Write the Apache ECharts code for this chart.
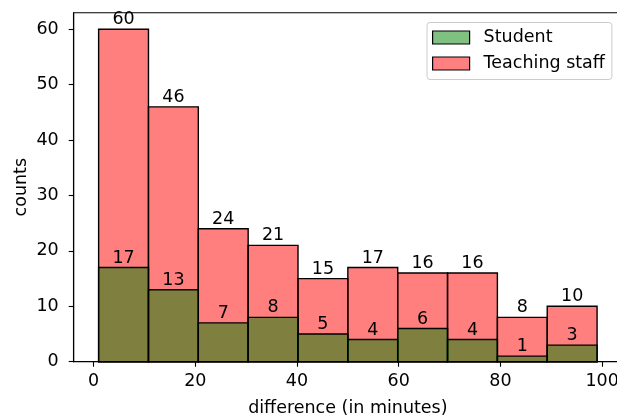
<!DOCTYPE html>
<html>
<head>
<meta charset="utf-8">
<script src="https://cdn.jsdelivr.net/npm/echarts@6/dist/echarts.min.js"></script>
<style>html,body{margin:0;padding:0;background:#fff;}#c{width:617px;height:417px;}</style>
</head>
<body>
<div id="c"></div>
<script>
const binEdges = [1.0, 10.8, 20.6, 30.4, 40.2, 50.0, 59.8, 69.6, 79.4, 89.2, 99.0];
const teachingCounts = [60, 46, 24, 21, 15, 17, 16, 16, 8, 10];
const studentCounts = [17, 13, 7, 8, 5, 4, 6, 4, 1, 3];
const xTicks = [0, 20, 40, 60, 80, 100];
const yTicks = [0, 10, 20, 30, 40, 50, 60];

const FONT = 'DejaVu Sans';
const FS = 17.5;

function toData(counts) {
  return counts.map((c, i) => [binEdges[i], binEdges[i + 1], c]);
}

function makeRender(fill) {
  return function (params, api) {
    const x0 = api.value(0), x1 = api.value(1), c = api.value(2);
    const p0 = api.coord([x0, c]);
    const p1 = api.coord([x1, 0]);
    return {
      type: 'group',
      children: [
        { type: 'rect', shape: { x: p0[0], y: p0[1], width: p1[0] - p0[0], height: p1[1] - p0[1] },
          style: { fill: fill, stroke: '#000', lineWidth: 1.4 } },
        { type: 'text', x: (p0[0] + p1[0]) / 2, y: p0[1] - 0.5, z2: 10,
          style: { text: String(c), fill: '#000', fontFamily: FONT, fontSize: FS, align: 'center', verticalAlign: 'bottom' } }
      ]
    };
  };
}

const chart = echarts.init(document.getElementById('c'), null, { renderer: 'canvas' });
chart.setOption({
  animation: false,
  backgroundColor: '#fff',
  textStyle: { fontFamily: FONT },
  grid: { left: 73.7, top: 12.7, width: 548.3, height: 349, outerBoundsMode: 'none', containLabel: false,
          show: true, borderColor: '#000', borderWidth: 1.1, backgroundColor: 'transparent' },
  legend: {
    orient: 'vertical', left: 427, top: 22.5,
    data: ['Student', 'Teaching staff'],
    icon: 'rect',
    itemWidth: 37, itemHeight: 13, itemGap: 8,
    padding: [6, 7, 7, 5],
    backgroundColor: 'rgba(255,255,255,0.8)', borderColor: '#cccccc', borderWidth: 1, borderRadius: 3,
    itemStyle: { borderColor: '#000', borderWidth: 1.2 },
    textStyle: { fontFamily: FONT, fontSize: FS, color: '#000', padding: [0, 0, 0, 9] }
  },
  xAxis: {
    type: 'value', min: -3.9, max: 103.9,
    name: 'difference (in minutes)', nameLocation: 'middle', nameGap: 38,
    nameTextStyle: { fontFamily: FONT, fontSize: FS, color: '#000' },
    axisLine: { show: true, onZero: false, lineStyle: { color: '#000', width: 1.1 } },
    axisTick: { show: true, length: 5, lineStyle: { color: '#000', width: 1.1 }, customValues: xTicks },
    axisLabel: { color: '#000', fontFamily: FONT, fontSize: FS, margin: 11, customValues: xTicks },
    splitLine: { show: false }
  },
  yAxis: {
    type: 'value', min: 0, max: 63,
    name: 'counts', nameLocation: 'middle', nameGap: 43, nameMoveOverlap: false,
    nameTextStyle: { fontFamily: FONT, fontSize: FS, color: '#000' },
    axisLine: { show: true, onZero: false, lineStyle: { color: '#000', width: 1.1 } },
    axisTick: { show: true, length: 5, lineStyle: { color: '#000', width: 1.1 }, customValues: yTicks },
    axisLabel: { color: '#000', fontFamily: FONT, fontSize: FS, margin: 15, customValues: yTicks },
    splitLine: { show: false }
  },
  series: [
    { name: 'Teaching staff', type: 'custom', renderItem: makeRender('rgba(255,0,0,0.5)'),
      itemStyle: { color: '#ff8080' }, encode: { x: [0, 1], y: 2 }, data: toData(teachingCounts), z: 2 },
    { name: 'Student', type: 'custom', renderItem: makeRender('rgba(0,128,0,0.5)'),
      itemStyle: { color: '#80c080' }, encode: { x: [0, 1], y: 2 }, data: toData(studentCounts), z: 3 }
  ]
});
</script>
</body>
</html>
